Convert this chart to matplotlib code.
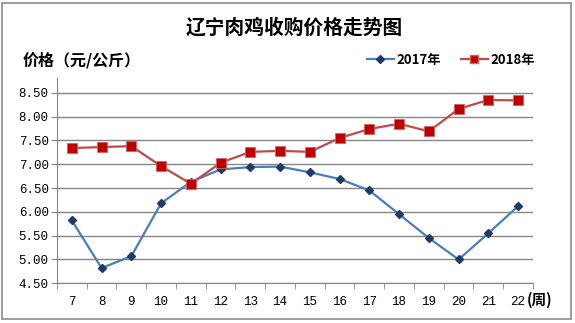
import numpy as np
import matplotlib.pyplot as plt
from matplotlib.patches import Rectangle
from matplotlib.lines import Line2D

plt.rcParams['font.family'] = ['Noto Sans CJK SC', 'DejaVu Sans']

# 数据（周次与价格，元/公斤）
weeks = ['7', '8', '9', '10', '11', '12', '13', '14', '15', '16', '17', '18', '19', '20', '21', '22']
price_2017 = [5.82, 4.82, 5.07, 6.18, 6.63, 6.89, 6.94, 6.95, 6.83, 6.69, 6.45, 5.95, 5.45, 5.00, 5.55, 6.12]
price_2018 = [7.34, 7.36, 7.38, 6.96, 6.59, 7.03, 7.26, 7.28, 7.26, 7.55, 7.74, 7.85, 7.69, 8.16, 8.35, 8.34]
yticks = [4.5, 5.0, 5.5, 6.0, 6.5, 7.0, 7.5, 8.0, 8.5]

fig = plt.figure(figsize=(5.75, 3.23), dpi=100)
ax = fig.add_axes([0.0991, 0.1229, 0.8278, 0.6356])

x = np.arange(len(weeks))
ax.plot(x, price_2017, color='#4A7EBB', lw=1.6, marker='D', ms=4,
        mfc='#1F3A68', mec='#1F3A68', label='2017年', zorder=3)
ax.plot(x, price_2018, color='#BE4B48', lw=1.6, marker='s', ms=6.5,
        mfc='#C00000', mec='#D06060', mew=0.6, label='2018年', zorder=3)

ax.set_xlim(-0.5, len(weeks) - 0.5)
ax.set_ylim(4.5, 8.81)
ax.set_yticks(yticks)
ax.set_yticklabels([f'{v:.2f}' for v in yticks], family='Liberation Mono', fontsize=9)
ax.yaxis.grid(True, color='#868686', lw=1)
ax.set_axisbelow(True)
ax.tick_params(axis='y', length=4, color='#868686', pad=2)

ax.set_xticks(x)
ax.set_xticklabels(weeks, family='Liberation Mono', fontsize=9)
ax.set_xticks(np.arange(len(weeks) + 1) - 0.5, minor=True)
ax.tick_params(axis='x', which='major', length=0, pad=9)
ax.tick_params(axis='x', which='minor', length=4, color='#868686')

for s in ['top', 'right']:
    ax.spines[s].set_visible(False)
ax.spines['left'].set_color('#868686')
ax.spines['bottom'].set_color('#868686')

fig.text(0.512, 0.913, '辽宁肉鸡收购价格走势图', ha='center', va='center',
         fontsize=14.2, fontweight='bold')
fig.text(0.040, 0.814, '价格（元/公斤）', ha='left', va='center',
         fontsize=11.5, fontweight='bold')
fig.text(0.916, 0.072, '(周)', ha='left', va='center',
         fontsize=10.5, fontweight='bold')

handles = [
    Line2D([], [], color='#4A7EBB', lw=1.6, marker='D', ms=4, mfc='#1F3A68', mec='#1F3A68'),
    Line2D([], [], color='#BE4B48', lw=1.6, marker='s', ms=6, mfc='#C00000', mec='#D06060'),
]
fig.legend(handles, ['2017年', '2018年'], loc='center', bbox_to_anchor=(0.785, 0.814),
           ncol=2, frameon=False, handlelength=2.0, handletextpad=0.25, columnspacing=1.5,
           prop={'weight': 'bold', 'size': 9.5})

fig.patches.append(Rectangle((0.004, 0.012), 0.989, 0.98, transform=fig.transFigure,
                             fill=False, ec='#8C8C8C', lw=1.2))

fig.savefig('out.png', dpi=100)
